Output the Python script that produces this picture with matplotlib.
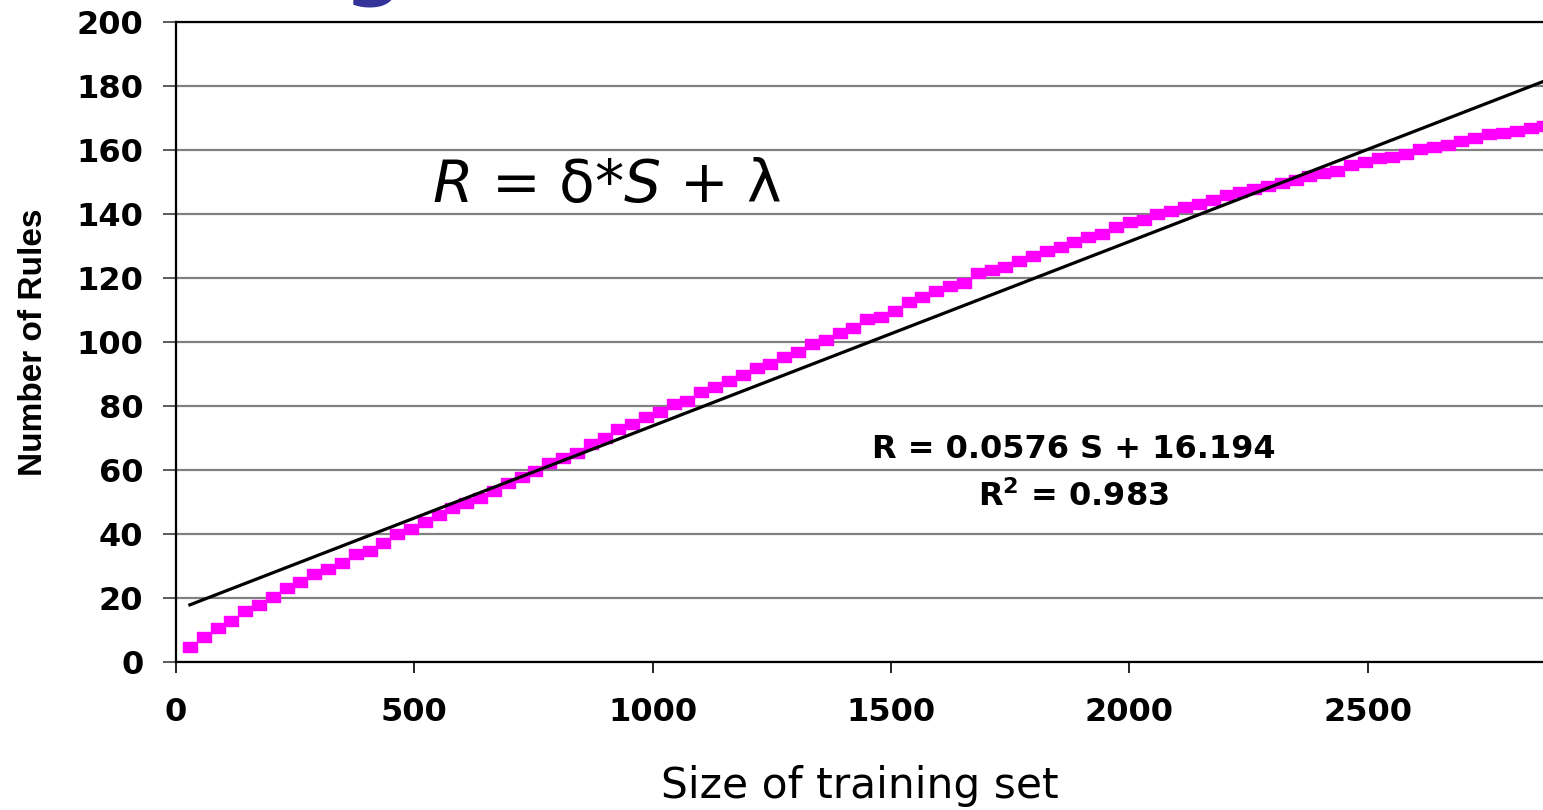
import numpy as np
import matplotlib
matplotlib.use("Agg")
import matplotlib.pyplot as plt

# training set sizes (every 29 examples) and rules found
train_size = np.arange(29, 29 * 100, 29)
n_rules = [
    4.8, 7.9, 10.7, 12.9, 16.0, 17.8, 20.4, 23.0, 25.1, 27.5,
    29.2, 30.8, 33.8, 34.8, 37.3, 39.9, 41.5, 43.7, 45.9, 48.2,
    49.8, 51.3, 53.4, 56.0, 57.9, 59.8, 62.1, 63.6, 65.2, 68.0,
    70.1, 72.7, 74.4, 76.7, 78.2, 80.5, 81.7, 84.3, 86.0, 87.9,
    89.8, 91.8, 93.1, 95.2, 97.0, 99.4, 100.6, 102.9, 104.3, 107.1,
    107.9, 109.8, 112.6, 114.0, 116.0, 117.5, 118.6, 121.5, 122.5, 123.3,
    125.4, 126.9, 128.3, 129.8, 131.3, 132.7, 133.8, 135.8, 137.4, 138.1,
    139.9, 141.0, 142.3, 143.1, 144.4, 145.9, 146.8, 147.7, 148.8, 149.6,
    150.6, 152.0, 152.7, 153.4, 155.3, 156.4, 157.4, 157.9, 158.7, 160.2,
    160.8, 161.6, 162.9, 163.7, 165.0, 165.4, 165.9, 166.8, 167.5,
]
slope, intercept, r2 = 0.0576, 16.194, 0.983

x_ticks = [0, 500, 1000, 1500, 2000, 2500]
y_ticks = [0, 20, 40, 60, 80, 100, 120, 140, 160, 180, 200]

plt.rcParams["mathtext.fontset"] = "dejavusans"
BOLD = dict(family="DejaVu Sans", weight="bold")

fig = plt.figure(figsize=(15.43, 8.10), dpi=100)
ax = fig.add_axes([0.1141, 0.1827, 0.8859, 0.7901])

ax.set_xlim(0, 2868)
ax.set_ylim(0, 200)
ax.set_xticks(x_ticks)
ax.set_yticks(y_ticks)
ax.grid(axis="y", color="#808080", lw=1.6)
ax.set_axisbelow(True)

for side in ["left", "bottom", "top"]:
    ax.spines[side].set_color("black")
    ax.spines[side].set_linewidth(1.6)
ax.spines["right"].set_visible(False)

ax.tick_params(axis="y", direction="out", length=9.5, width=1.2, color="#404040", pad=14)
ax.tick_params(axis="x", direction="out", length=8, width=1.2, color="black", pad=17)
for lab in ax.get_xticklabels() + ax.get_yticklabels():
    lab.set_fontfamily("DejaVu Sans")
    lab.set_fontweight("bold")
    lab.set_fontsize(23)

rect = [(-1.25, -1), (1.25, -1), (1.25, 1), (-1.25, 1), (-1.25, -1)]
ax.plot(train_size, n_rules, ls="none", marker=rect, ms=9.4, color="#FF00FF", zorder=3)

fit_x = np.array([train_size[0], train_size[-1]])
ax.plot(fit_x, slope * fit_x + intercept, color="black", lw=2.3, zorder=4)

ax.text(1884, 66.3, f"R = {slope} S + {intercept}", ha="center", va="center", fontsize=23, **BOLD)
ax.text(1884, 51.6, r"R$^\mathbf{2}$ = %.3f" % r2, ha="center", va="center", fontsize=23, **BOLD)

ax.text(904, 149, r"$R$ = δ*$S$ + λ", ha="center", va="center", fontsize=42, family="DejaVu Sans")

ax.set_ylabel("Number of Rules", fontsize=24, labelpad=20, family="Liberation Sans", weight="bold")
ax.set_xlabel("Size of training set", fontsize=30.5, family="DejaVu Sans", labelpad=27)

# bottom of the cut-off slide title
fig.text(0.2415, 1.0125, "g", color="#333399", fontsize=60, weight="bold",
         family="DejaVu Sans", ha="center", va="baseline")

fig.savefig("out.png", dpi=100)
